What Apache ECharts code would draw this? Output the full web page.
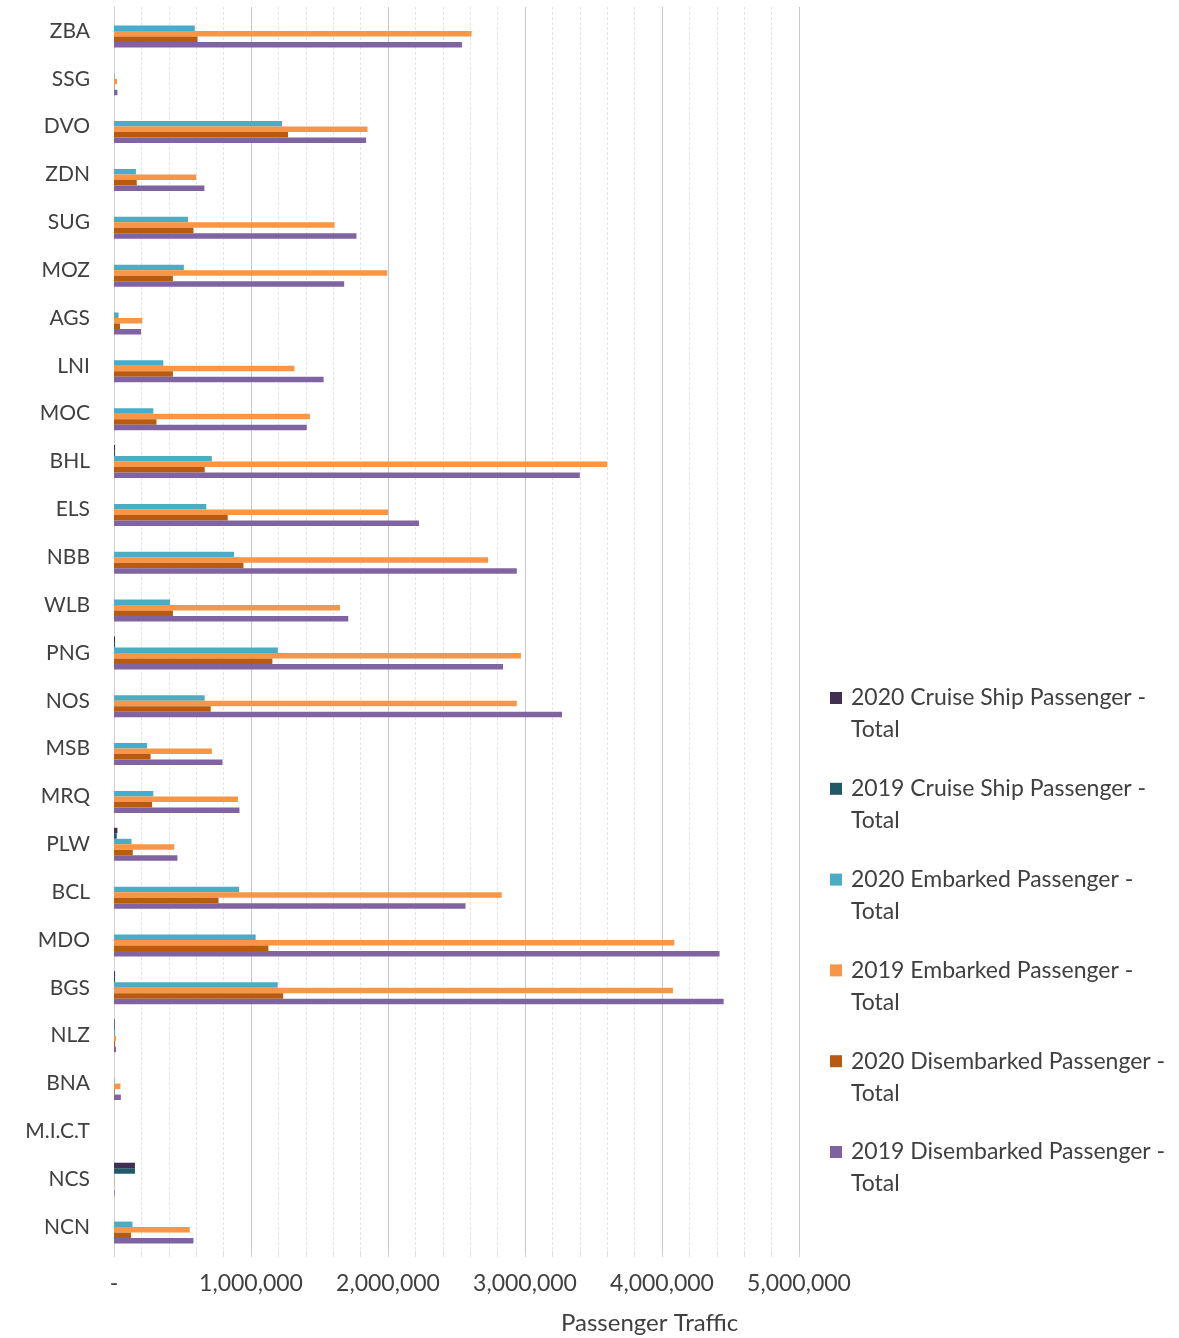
<!DOCTYPE html>
<html>
<head>
<meta charset="utf-8">
<title>Passenger Traffic by Port</title>
<script src="https://cdn.jsdelivr.net/npm/echarts@6/dist/echarts.min.js"></script>
<style>
  html, body { margin: 0; padding: 0; background: #ffffff; }
  #chart { width: 1179px; height: 1338px; }
</style>
</head>
<body>
<div id="chart"></div>
<script>
// Ports, top to bottom
const ports = ['ZBA','SSG','DVO','ZDN','SUG','MOZ','AGS','LNI','MOC','BHL','ELS','NBB','WLB',
  'PNG','NOS','MSB','MRQ','PLW','BCL','MDO','BGS','NLZ','BNA','M.I.C.T','NCS','NCN'];

// Passenger counts per port (same order as ports)
const cruise2020 = [0,0,0,0,0,0,0,0,0,8000,0,0,0,8000,0,0,0,25000,0,0,8000,5000,0,0,153000,0];
const cruise2019 = [0,0,0,0,0,0,0,0,0,8000,0,0,0,8000,0,0,0,20000,0,0,8000,5000,0,0,153000,0];
const embarked2020 = [590000,4000,1227000,160000,540000,510000,33000,360000,287000,714000,674000,876000,409000,
  1196000,662000,241000,287000,128000,913000,1034000,1195000,8000,3000,0,2000,135000];
const embarked2019 = [2610000,22000,1850000,600000,1610000,1995000,206000,1317000,1430000,3600000,2000000,2730000,1650000,
  2970000,2940000,714000,905000,440000,2830000,4090000,4080000,15000,47000,0,5000,553000];
const disembarked2020 = [610000,3000,1270000,166000,580000,430000,44000,430000,310000,662000,830000,945000,430000,
  1156000,706000,267000,278000,137000,763000,1127000,1235000,8000,5000,0,1000,124000];
const disembarked2019 = [2540000,25000,1840000,660000,1770000,1680000,197000,1530000,1407000,3400000,2226000,2940000,1710000,
  2840000,3270000,792000,916000,463000,2566000,4420000,4450000,15000,50000,0,5000,580000];

const seriesNames = [
  '2020 Cruise Ship Passenger - Total',
  '2019 Cruise Ship Passenger - Total',
  '2020 Embarked Passenger - Total',
  '2019 Embarked Passenger - Total',
  '2020 Disembarked Passenger - Total',
  '2019 Disembarked Passenger - Total'
];
const seriesData = [cruise2020, cruise2019, embarked2020, embarked2019, disembarked2020, disembarked2019];
const colors = ['#403152', '#215968', '#4BACC6', '#F79646', '#B85B10', '#8064A2'];

// Axis scale
const xMax = 5000000;
const xStep = 1000000;

const FONT = 'Lato, "Open Sans", sans-serif';
const TEXT = '#404040';

const chart = echarts.init(document.getElementById('chart'), null, { renderer: 'canvas' });

// One legend block per series so each two-line entry sits at its own height.
// A leading empty line keeps the swatch level with the first text line.
const legendTop0 = 645;
const legendStep = 90.8;
const legends = seriesNames.map((name, i) => ({
  data: [name],
  left: 825,
  top: legendTop0 + i * legendStep,
  orient: 'vertical',
  icon: 'rect',
  itemWidth: 12,
  itemHeight: 12,
  selectedMode: false,
  formatter: n => '\n' + n.replace(' - Total', ' -\nTotal'),
  textStyle: {
    fontFamily: FONT,
    fontSize: 23,
    color: TEXT,
    lineHeight: 32,
    padding: [0, 0, 0, 4]
  }
}));

chart.setOption({
  animation: false,
  color: colors,
  title: {
    text: 'Passenger Traffic',
    left: 556,
    top: 1306,
    textStyle: { fontFamily: FONT, fontSize: 24, fontWeight: 'normal', color: TEXT }
  },
  legend: legends,
  grid: { left: 114, right: 380, top: 7, bottom: 87, containLabel: false },
  xAxis: {
    type: 'value',
    min: 0,
    max: xMax,
    interval: xStep,
    axisLine: { show: false },
    axisTick: { show: true, length: 6, lineStyle: { color: '#d0d0d0' } },
    minorTick: { show: true, splitNumber: 5, length: 6, lineStyle: { color: '#e0e0e0' } },
    splitLine: { show: true, lineStyle: { color: '#c8c8c8', width: 1 } },
    minorSplitLine: { show: true, lineStyle: { color: '#e4e4e4', width: 1, type: [3, 2] } },
    axisLabel: {
      fontFamily: FONT,
      fontSize: 23,
      color: TEXT,
      margin: 21,
      formatter: v => v === 0 ? '-' : v.toLocaleString('en-US')
    }
  },
  yAxis: {
    type: 'category',
    inverse: true,
    data: ports,
    axisLine: { show: true, lineStyle: { color: '#d0d0d0' } },
    axisTick: { show: false },
    axisLabel: { fontFamily: FONT, fontSize: 21, color: TEXT, margin: 24 }
  },
  series: seriesNames.map((name, i) => ({
    name,
    type: 'bar',
    data: seriesData[i],
    barGap: '0%',
    barCategoryGap: '31%',
    itemStyle: { color: colors[i] }
  }))
});
</script>
</body>
</html>
